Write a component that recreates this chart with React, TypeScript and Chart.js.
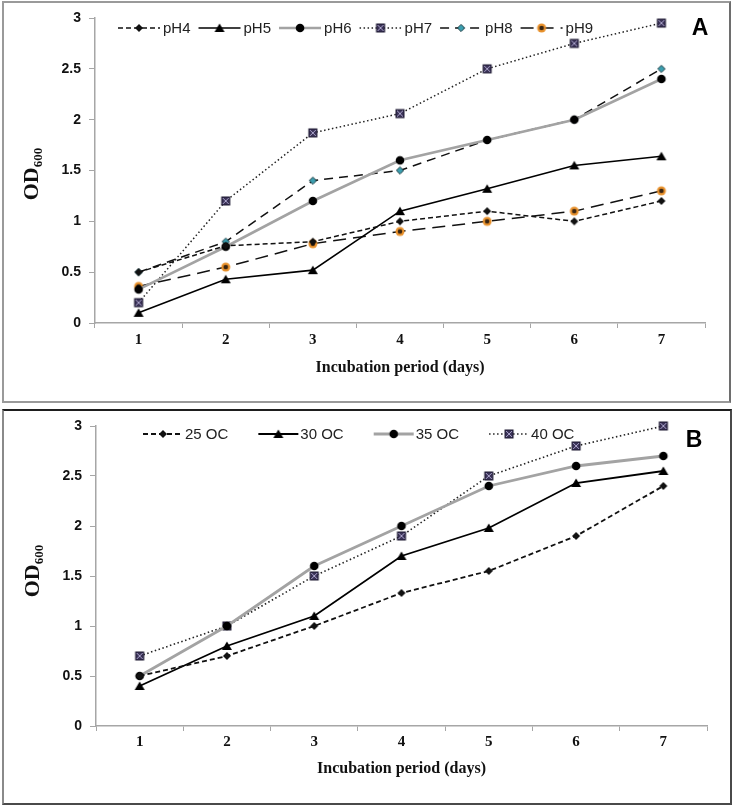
import React, { useEffect, useRef } from 'react';
import { Chart, registerables } from 'chart.js';
Chart.register(...registerables);

// ---------- data ----------
const days = ['1', '2', '3', '4', '5', '6', '7'];
const yMin = 0;
const yMax = 3;
const yStep = 0.5;
const xTitle = 'Incubation period (days)';

const phLabels = ['pH4', 'pH5', 'pH6', 'pH7', 'pH8', 'pH9'];
const pH4 = [0.5, 0.76, 0.8, 1.0, 1.1, 1.0, 1.2];
const pH5 = [0.1, 0.43, 0.52, 1.1, 1.32, 1.55, 1.64];
const pH6 = [0.33, 0.75, 1.2, 1.6, 1.8, 2.0, 2.4];
const pH7 = [0.2, 1.2, 1.87, 2.06, 2.5, 2.75, 2.95];
const pH8 = [0.5, 0.8, 1.4, 1.5, 1.8, 2.0, 2.5];
const pH9 = [0.36, 0.55, 0.78, 0.9, 1.0, 1.1, 1.3];

const tempLabels = ['25 OC', '30 OC', '35 OC', '40 OC'];
const t25 = [0.5, 0.7, 1.0, 1.33, 1.55, 1.9, 2.4];
const t30 = [0.4, 0.8, 1.1, 1.7, 1.98, 2.43, 2.55];
const t35 = [0.5, 1.0, 1.6, 2.0, 2.4, 2.6, 2.7];
const t40 = [0.7, 1.0, 1.5, 1.9, 2.5, 2.8, 3.0];

// ---------- styling ----------
const SANS = "'Liberation Sans', Arial, sans-serif";
const SERIF = "'Liberation Serif', 'Times New Roman', serif";
const AXIS = '#a6a6a6';

function makeMarker(kind: string): HTMLCanvasElement {
  const c = document.createElement('canvas');
  const s = 12;
  c.width = s;
  c.height = s;
  const ctx = c.getContext('2d')!;
  const m = s / 2;
  ctx.lineJoin = 'miter';
  switch (kind) {
    case 'diamond':
      ctx.fillStyle = '#111';
      ctx.beginPath();
      ctx.moveTo(m, m - 4); ctx.lineTo(m + 4, m); ctx.lineTo(m, m + 4); ctx.lineTo(m - 4, m);
      ctx.closePath(); ctx.fill();
      break;
    case 'tealDiamond':
      ctx.fillStyle = '#3a9fb0';
      ctx.strokeStyle = '#1f3d44';
      ctx.lineWidth = 1;
      ctx.beginPath();
      ctx.moveTo(m, m - 3.6); ctx.lineTo(m + 3.6, m); ctx.lineTo(m, m + 3.6); ctx.lineTo(m - 3.6, m);
      ctx.closePath(); ctx.fill(); ctx.stroke();
      break;
    case 'triangle':
      ctx.fillStyle = '#000';
      ctx.beginPath();
      ctx.moveTo(m, m - 4.5); ctx.lineTo(m + 5, m + 4); ctx.lineTo(m - 5, m + 4);
      ctx.closePath(); ctx.fill();
      break;
    case 'circle':
      ctx.fillStyle = '#000';
      ctx.beginPath(); ctx.arc(m, m, 4.3, 0, Math.PI * 2); ctx.fill();
      break;
    case 'squareX':
      ctx.fillStyle = '#3b3358';
      ctx.fillRect(m - 4, m - 4, 8, 8);
      ctx.strokeStyle = '#a9a2c9';
      ctx.lineWidth = 1;
      ctx.beginPath();
      ctx.moveTo(m - 3, m - 3); ctx.lineTo(m + 3, m + 3);
      ctx.moveTo(m + 3, m - 3); ctx.lineTo(m - 3, m + 3);
      ctx.stroke();
      ctx.strokeStyle = '#1c1830';
      ctx.strokeRect(m - 4, m - 4, 8, 8);
      break;
    case 'orange':
      ctx.fillStyle = '#e8912c';
      ctx.beginPath(); ctx.arc(m, m, 4.5, 0, Math.PI * 2); ctx.fill();
      ctx.fillStyle = '#3b2612';
      ctx.beginPath(); ctx.arc(m, m, 2.3, 0, Math.PI * 2); ctx.fill();
      break;
  }
  return c;
}

const legendPlugin = {
  id: 'customLegend',
  afterDraw(chart: any, _args: any, opts: any) {
    const { ctx } = chart;
    ctx.save();
    ctx.font = opts.font;
    let cx = opts.x;
    const y = opts.y;
    chart.data.datasets.forEach((ds: any) => {
      ctx.save();
      ctx.strokeStyle = ds.borderColor;
      ctx.lineWidth = ds.borderWidth;
      ctx.setLineDash(ds.borderDash || []);
      ctx.beginPath();
      ctx.moveTo(cx, y);
      ctx.lineTo(cx + opts.lineLen, y);
      ctx.stroke();
      ctx.restore();
      const img = ds.pointStyle as HTMLCanvasElement;
      ctx.drawImage(img, cx + opts.lineLen / 2 - img.width / 2, y - img.height / 2);
      ctx.fillStyle = '#222';
      ctx.textBaseline = 'middle';
      ctx.textAlign = 'left';
      ctx.fillText(ds.label, cx + opts.lineLen + opts.gap, y + 1);
      cx += opts.lineLen + opts.gap + ctx.measureText(ds.label).width + opts.spacing;
    });
    ctx.restore();
  },
};

const decorPlugin = {
  id: 'decor',
  afterDraw(chart: any, _args: any, opts: any) {
    const { ctx } = chart;
    ctx.save();
    // y-axis title with subscript
    ctx.translate(opts.titleX, opts.titleY);
    ctx.rotate(-Math.PI / 2);
    ctx.fillStyle = '#111';
    ctx.textBaseline = 'alphabetic';
    ctx.textAlign = 'left';
    const bigFont = `bold 22px ${SERIF}`;
    const smallFont = `bold 13px ${SERIF}`;
    ctx.font = bigFont;
    const w1 = ctx.measureText('OD').width;
    ctx.font = smallFont;
    const w2 = ctx.measureText('600').width;
    const start = -(w1 + w2) / 2;
    ctx.font = bigFont;
    ctx.fillText('OD', start, 0);
    ctx.font = smallFont;
    ctx.fillText('600', start + w1, 4);
    ctx.restore();
    // panel letter
    ctx.save();
    ctx.font = `bold 23px ${SANS}`;
    ctx.fillStyle = '#000';
    ctx.textAlign = 'center';
    ctx.textBaseline = 'middle';
    ctx.fillText(opts.letter, opts.letterX, opts.letterY);
    ctx.restore();
  },
};

function buildChart(canvas: HTMLCanvasElement, datasets: any[], cfg: any) {
  return new Chart(canvas, {
    type: 'line',
    data: { labels: days, datasets },
    plugins: [legendPlugin, decorPlugin],
    options: {
      responsive: false,
      animation: false,
      layout: { padding: { top: cfg.padTop, right: cfg.padRight, bottom: 0, left: 0 } },
      elements: { line: { tension: 0 } },
      scales: {
        x: {
          type: 'category',
          offset: true,
          ticks: { color: '#111', font: { family: SERIF, size: 15, weight: 'bold' }, padding: cfg.xTickPad, maxRotation: 0 },
          grid: { offset: true, drawOnChartArea: false, drawTicks: true, tickLength: 5, color: AXIS, lineWidth: 1 },
          border: { display: true, color: AXIS, width: 1.5 },
          title: {
            display: true,
            text: xTitle,
            color: '#111',
            font: { family: SERIF, size: 16, weight: 'bold' },
            padding: { top: 0, bottom: cfg.titlePad },
          },
          afterFit: (s: any) => { s.height = cfg.xHeight; },
        },
        y: {
          min: yMin,
          max: yMax,
          ticks: {
            stepSize: yStep,
            color: '#111',
            font: { family: SANS, size: 14, weight: 'bold' },
            padding: 8,
            callback: (v: any) => String(Number(v)),
          },
          grid: { drawOnChartArea: false, drawTicks: true, tickLength: 6, color: AXIS, lineWidth: 1 },
          border: { display: true, color: AXIS, width: 1.5 },
          afterFit: (s: any) => { s.width = cfg.yWidth; },
        },
      },
      plugins: {
        legend: { display: false },
        tooltip: { enabled: false },
        customLegend: cfg.legend,
        decor: cfg.decor,
      } as any,
    } as any,
  });
}

function ds(label: string, data: number[], color: string, width: number, dash: number[], marker: HTMLCanvasElement) {
  return {
    label,
    data,
    borderColor: color,
    borderWidth: width,
    borderDash: dash,
    pointStyle: marker,
    pointRadius: 5,
    pointHoverRadius: 5,
    fill: false,
    clip: false,
  };
}

export default function App() {
  const refA = useRef<HTMLCanvasElement>(null);
  const refB = useRef<HTMLCanvasElement>(null);

  useEffect(() => {
    const M = {
      diamond: makeMarker('diamond'),
      teal: makeMarker('tealDiamond'),
      tri: makeMarker('triangle'),
      circle: makeMarker('circle'),
      sq: makeMarker('squareX'),
      orange: makeMarker('orange'),
    };
    const dataA = [
      ds(phLabels[0], pH4, '#111', 1.5, [5, 3], M.diamond),
      ds(phLabels[1], pH5, '#000', 1.6, [], M.tri),
      ds(phLabels[2], pH6, '#a3a3a3', 2.6, [], M.circle),
      ds(phLabels[3], pH7, '#222', 1.5, [1.5, 2.5], M.sq),
      ds(phLabels[4], pH8, '#111', 1.5, [9, 6], M.teal),
      ds(phLabels[5], pH9, '#111', 1.5, [13, 7], M.orange),
    ];
    const dataB = [
      ds(tempLabels[0], t25, '#111', 1.8, [5, 3], M.diamond),
      ds(tempLabels[1], t30, '#000', 1.8, [], M.tri),
      ds(tempLabels[2], t35, '#a3a3a3', 2.8, [], M.circle),
      ds(tempLabels[3], t40, '#222', 1.6, [1.5, 2.5], M.sq),
    ];
    const a = buildChart(refA.current!, dataA, {
      padTop: 18, padRight: 33, yWidth: 95, xHeight: 81, titlePad: 27, xTickPad: 3,
      legend: { x: 118, y: 28, lineLen: 42, gap: 3, spacing: 8, font: `15px ${SANS}` },
      decor: { titleX: 38, titleY: 174, letter: 'A', letterX: 700, letterY: 29 },
    });
    const b = buildChart(refB.current!, dataB, {
      padTop: 21, padRight: 31, yWidth: 96, xHeight: 79, titlePad: 27, xTickPad: 2,
      legend: { x: 143, y: 29, lineLen: 40, gap: 2, spacing: 30, font: `15px ${SANS}` },
      decor: { titleX: 39, titleY: 166, letter: 'B', letterX: 694, letterY: 36 },
    });
    return () => { a.destroy(); b.destroy(); };
  }, []);

  return (
    <div style={{ position: 'absolute', left: 0, top: 0, width: 738, height: 812, background: '#fff' }}>
      <canvas ref={refA} width={738} height={404} style={{ position: 'absolute', left: 0, top: 0, width: 738, height: 404 }} />
      <canvas ref={refB} width={738} height={400} style={{ position: 'absolute', left: 0, top: 405, width: 738, height: 400 }} />
      <div style={{ position: 'absolute', left: 2, top: 1, width: 729, height: 402, boxSizing: 'border-box', border: '2px solid #9a9a9a', borderRightColor: '#6e6e6e', pointerEvents: 'none' }} />
      <div style={{ position: 'absolute', left: 2, top: 409, width: 730, height: 396, boxSizing: 'border-box', border: '2px solid #4a4a4a', borderTopColor: '#1e1e1e', borderLeftColor: '#8a8a8a', pointerEvents: 'none' }} />
    </div>
  );
}
